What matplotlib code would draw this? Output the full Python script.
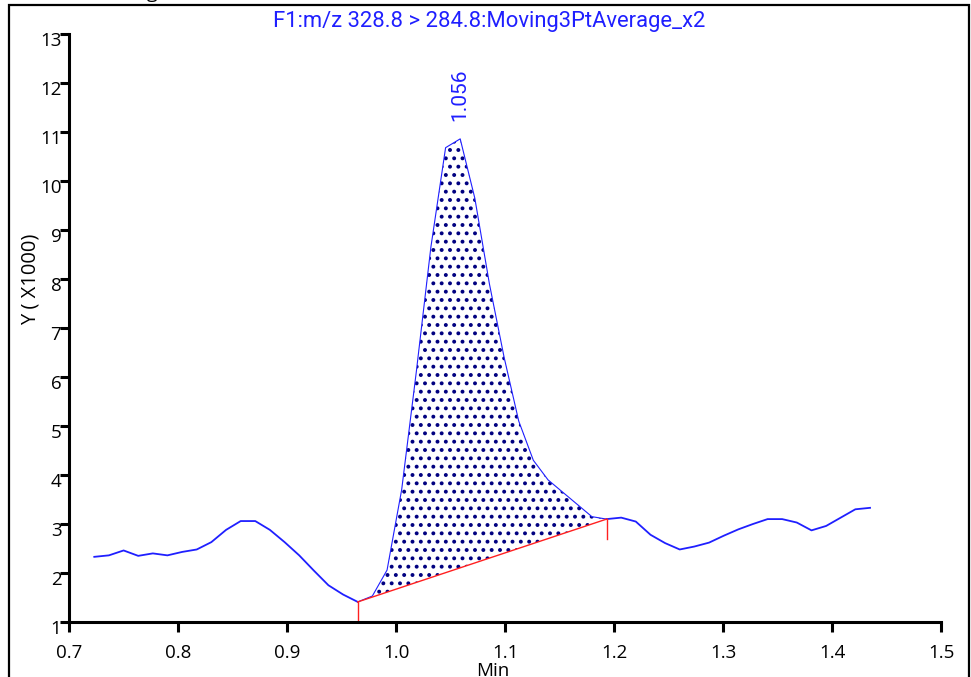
import numpy as np
import matplotlib
matplotlib.use("Agg")
import matplotlib.pyplot as plt
from matplotlib.patches import Rectangle
from matplotlib.transforms import ScaledTranslation

# ---------------- data ----------------
times = [0.7232, 0.7366, 0.7501, 0.7635, 0.7769, 0.7903, 0.8038, 0.8172, 0.8306, 0.8441,
         0.8575, 0.8709, 0.8843, 0.8978, 0.9112, 0.9246, 0.9380, 0.9515, 0.9649, 0.9783,
         0.9918, 1.0052, 1.0186, 1.0320, 1.0455, 1.0589, 1.0723, 1.0857, 1.0992, 1.1126,
         1.1260, 1.1395, 1.1529, 1.1663, 1.1797, 1.1932, 1.2066, 1.2200, 1.2335, 1.2469,
         1.2603, 1.2737, 1.2872, 1.3006, 1.3140, 1.3275, 1.3409, 1.3543, 1.3677, 1.3812,
         1.3946, 1.4080, 1.4214, 1.4349]
intensity = [2.33, 2.36, 2.46, 2.35, 2.40, 2.36, 2.43, 2.48, 2.63, 2.88,
             3.06, 3.06, 2.88, 2.63, 2.36, 2.05, 1.75, 1.56, 1.41, 1.53,
             2.06, 3.70, 6.10, 8.65, 10.68, 10.86, 9.65, 7.90, 6.40, 5.10,
             4.30, 3.90, 3.65, 3.40, 3.15, 3.10, 3.13, 3.05, 2.78, 2.61,
             2.48, 2.54, 2.62, 2.76, 2.89, 3.00, 3.10, 3.10, 3.03, 2.87,
             2.96, 3.13, 3.30, 3.33]
peak_start_idx = 18
peak_end_idx = 35
apex_idx = 25
apex_label = "1.056"
title_text = "F1:m/z 328.8 > 284.8:Moving3PtAverage_x2"
x_ticks = [0.7, 0.8, 0.9, 1.0, 1.1, 1.2, 1.3, 1.4, 1.5]
x_tick_labels = ["0.7", "0.8", "0.9", "1.0", "1.1", "1.2", "1.3", "1.4", "1.5"]
y_ticks = [1, 2, 3, 4, 5, 6, 7, 8, 9, 10, 11, 12, 13]
y_tick_labels = ["1", "2", "3", "4", "5", "6", "7", "8", "9", "10", "11", "12", "13"]
x_label = "Min"
y_label = "Y ( X1000)"

# ---------------- figure ----------------
W, H = 971, 677
fig = plt.figure(figsize=(W / 100, H / 100), dpi=100)
fig.patch.set_facecolor("white")
ax = fig.add_axes([69 / W, 1 - 622 / H, (941 - 69) / W, (622 - 34) / H])

t = np.array(times)
y = np.array(intensity)
blue = "#1f1fff"

# outer frame
fig.add_artist(Rectangle((9 / W, -0.05), (969 - 9) / W, 1.05 - 5 / H,
                         transform=fig.transFigure, fill=False,
                         edgecolor="black", linewidth=1.6, clip_on=False))

# baseline between peak start and end
bx = [t[peak_start_idx], t[peak_end_idx]]
by = [y[peak_start_idx], y[peak_end_idx]]
pt = t[peak_start_idx:peak_end_idx + 1]
py = y[peak_start_idx:peak_end_idx + 1]
base = np.interp(pt, bx, by)

plt.rcParams["hatch.linewidth"] = 1.6
ax.fill_between(pt, base, py, facecolor="none", edgecolor="#000080",
                hatch="..", linewidth=0)

# trace
ax.plot(t[:peak_start_idx + 1], y[:peak_start_idx + 1], color=blue, lw=1.3)
ax.plot(pt, py, color=blue, lw=0.8)
ax.plot(t[peak_end_idx:], y[peak_end_idx:], color=blue, lw=1.3)

# baseline and drop lines
ax.plot(bx, by, color="#ff2020", lw=1.0)
drop = 20 / 49.0
ax.plot([bx[0], bx[0]], [by[0], by[0] - drop], color="#ff2020", lw=1.0, clip_on=False)
ax.plot([bx[1], bx[1]], [by[1], by[1] - drop], color="#ff2020", lw=1.0)

# apex label
ax.annotate(apex_label, (t[apex_idx], y[apex_idx]), xytext=(0, 13),
            textcoords="offset points", rotation=90, ha="center", va="bottom",
            color=blue, fontsize=15, family="Roboto")

# axes styling
ax.set_xlim(0.7, 1.5)
ax.set_ylim(1, 13)
for s in ("top", "right"):
    ax.spines[s].set_visible(False)
for s in ("left", "bottom"):
    ax.spines[s].set_linewidth(2.2)
ax.set_xticks(x_ticks)
ax.set_xticklabels(x_tick_labels, family="Open Sans", fontsize=13.5)
ax.set_yticks(y_ticks)
ax.set_yticklabels(y_tick_labels, family="Open Sans", fontsize=13.5)
ax.tick_params(axis="x", direction="out", length=7.2, width=2.2, pad=9)
ax.tick_params(axis="y", direction="out", length=6.5, width=2.2, pad=-1)
off = ScaledTranslation(0, -5 / 100, fig.dpi_scale_trans)
for lab in ax.get_yticklabels():
    lab.set_transform(lab.get_transform() + off)

# texts
fig.text(489 / W, 1 - 22 / H, title_text, ha="center", va="center",
         color=blue, fontsize=15.8, family="Roboto")
fig.text(31 / W, 1 - 279 / H, y_label, rotation=90, ha="center", va="center",
         fontsize=14.5, family="Open Sans")
fig.text(493 / W, 1 - 662 / H, x_label, ha="center", va="top",
         fontsize=13.5, family="Open Sans")
fig.text(152 / W, 1 + 1.5 / H, "g", ha="center", va="baseline",
         fontsize=14, family="Open Sans")

fig.savefig("out.png", dpi=100)
